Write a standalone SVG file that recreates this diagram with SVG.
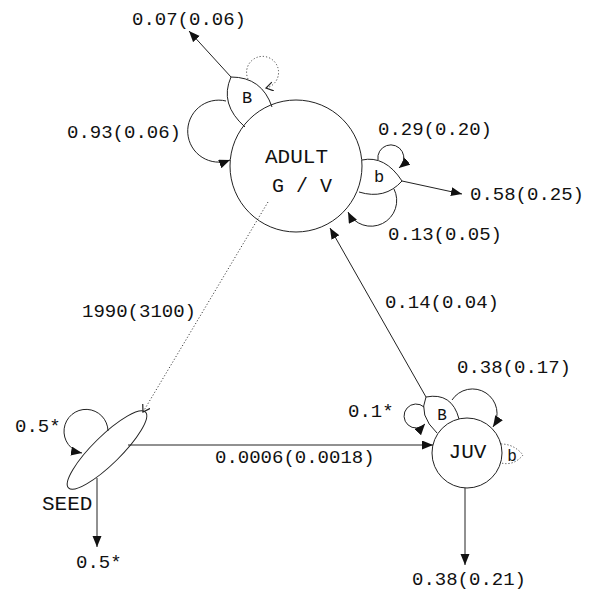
<svg xmlns="http://www.w3.org/2000/svg" width="598" height="590" viewBox="0 0 598 590">
<defs>
<style>
.n{fill:none;stroke:#222;stroke-width:1}
.d{fill:none;stroke:#444;stroke-width:1;stroke-dasharray:1.2,2}
.l{fill:none;stroke:#222;stroke-width:1}
.t{font-family:"Liberation Mono","Courier New",monospace;font-size:19px;fill:#111}
.big{font-family:"Liberation Mono","Courier New",monospace;font-size:21px;fill:#111}
.sm{font-family:"Liberation Mono","Courier New",monospace;font-size:17px;fill:#111}
</style>
<marker id="arr" markerUnits="userSpaceOnUse" markerWidth="12" markerHeight="10" refX="11" refY="4.5" orient="auto"><path d="M0,0 L11,4.5 L0,9 z" fill="#111"/></marker>
<marker id="chev" markerUnits="userSpaceOnUse" markerWidth="10" markerHeight="10" refX="7" refY="4.5" orient="auto"><path d="M0,0 L7,4.5 L0,9" fill="none" stroke="#222" stroke-width="1.2"/></marker>
</defs>
<rect width="598" height="590" fill="#fff"/>

<g id="connectors">
<path class="l" d="M231,77 L189,31" marker-end="url(#arr)"/>
<path class="d" d="M248,79 A16,16 0 1 1 266,88" marker-end="url(#chev)"/>
<path class="l" d="M226,101 A31,31 0 1 0 230,160" marker-end="url(#arr)"/>
<path class="l" d="M378,160 A13,13 0 1 1 399,168" marker-end="url(#arr)"/>
<path class="l" d="M402,181 L462,194" marker-end="url(#arr)"/>
<path class="l" d="M394,189 A24,24 0 1 1 348,212" marker-end="url(#arr)"/>
<path class="d" d="M268,202 L143,412" marker-end="url(#chev)"/>
<path class="l" d="M426,397 L330,228" marker-end="url(#arr)"/>
<path class="l" d="M424,407 A12,12 0 1 0 425,424" marker-end="url(#arr)"/>
<path class="l" d="M452,400 A23,23 0 1 1 493,427" marker-end="url(#arr)"/>
<path class="l" d="M128,445 L433,445" marker-end="url(#arr)"/>
<path class="l" d="M108,431 A22,22 0 1 0 82,453" marker-end="url(#arr)"/>
<path class="l" d="M97,478 L97,547" marker-end="url(#arr)"/>
<path class="l" d="M465,488 L465,565" marker-end="url(#arr)"/>
</g>

<g id="adult">
<circle class="n" cx="296" cy="166" r="66"/>
<text class="big" x="296.5" y="163" text-anchor="middle">ADULT</text>
<text class="big" x="302" y="192" text-anchor="middle" style="font-size:20px">G / V</text>
</g>
<g id="adult-B">
<path class="n" d="M245,127 Q219,104 231,77 Q262,77 272,107"/>
<text class="sm" x="247" y="103" text-anchor="middle">B</text>
</g>
<g id="adult-b">
<path class="n" d="M362,160 Q385,155 402,181 Q385,200 359,192"/>
<text class="sm" x="379" y="182" text-anchor="middle">b</text>
</g>

<g id="seed">
<ellipse class="n" cx="107" cy="450" rx="54" ry="14" transform="rotate(-44.5 107 450)"/>
<text class="big" x="42" y="510">SEED</text>
</g>

<g id="juv">
<circle class="n" cx="467" cy="453" r="35"/>
<text class="big" x="467.5" y="458" text-anchor="middle">JUV</text>
</g>
<g id="juv-B">
<path class="n" d="M437,433 Q418,415 426,397 Q452,392 459,419"/>
<text class="sm" x="442" y="420" text-anchor="middle" style="font-size:16px">B</text>
</g>
<g id="juv-b">
<path class="d" d="M501,444 Q514,444 523,455 Q514,466 501,463"/>
<text class="sm" x="512" y="461" text-anchor="middle" style="font-size:16px">b</text>
</g>

<g id="labels">
<text class="t" x="132" y="25">0.07(0.06)</text>
<text class="t" x="67" y="138">0.93(0.06)</text>
<text class="t" x="378" y="135">0.29(0.20)</text>
<text class="t" x="470" y="200">0.58(0.25)</text>
<text class="t" x="388" y="240">0.13(0.05)</text>
<text class="t" x="82" y="317">1990(3100)</text>
<text class="t" x="385" y="308">0.14(0.04)</text>
<text class="t" x="457" y="373">0.38(0.17)</text>
<text class="t" x="348" y="417">0.1*</text>
<text class="t" x="15" y="432">0.5*</text>
<text class="t" x="215" y="463">0.0006(0.0018)</text>
<text class="t" x="76" y="568">0.5*</text>
<text class="t" x="412" y="585">0.38(0.21)</text>
</g>
</svg>
